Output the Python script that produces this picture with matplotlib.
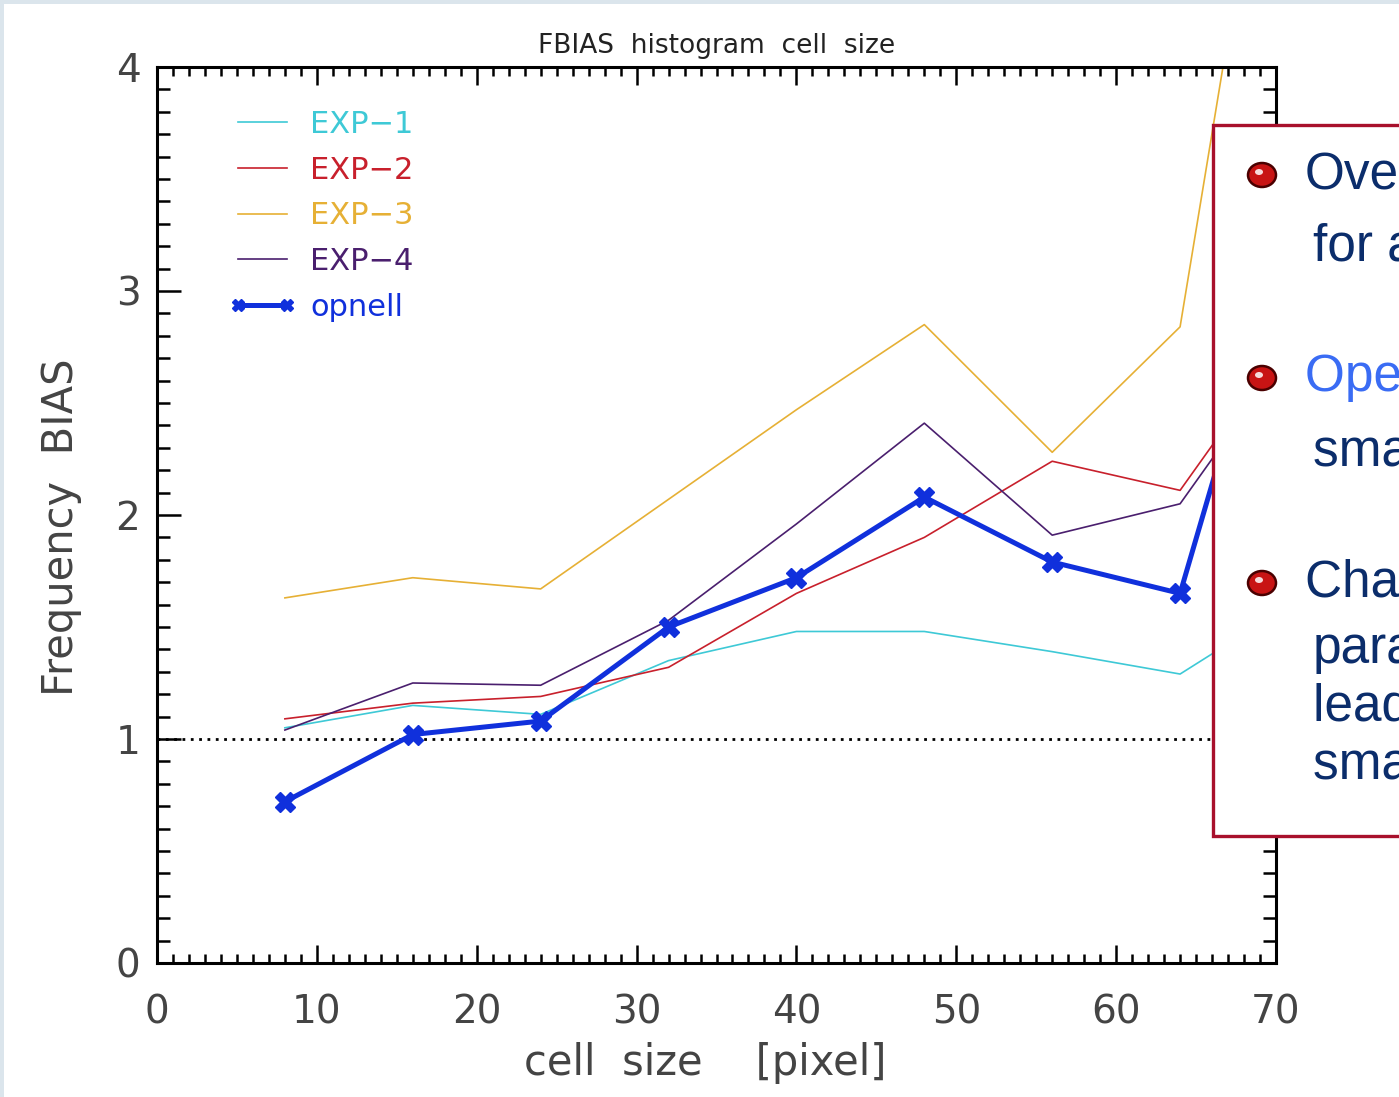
import numpy as np
import matplotlib.pyplot as plt
from matplotlib.patches import Rectangle, Ellipse
from matplotlib.ticker import MultipleLocator

# cell size [pixel]; the last point lies outside the drawn x-range
cell_size = [8, 16, 24, 32, 40, 48, 56, 64, 72]

exp1 = [1.05, 1.15, 1.11, 1.35, 1.48, 1.48, 1.39, 1.29, 1.65]
exp2 = [1.09, 1.16, 1.19, 1.32, 1.65, 1.90, 2.24, 2.11, 2.91]
exp3 = [1.63, 1.72, 1.67, 2.07, 2.47, 2.85, 2.28, 2.84, 6.30]
exp4 = [1.04, 1.25, 1.24, 1.53, 1.96, 2.41, 1.91, 2.05, 2.85]
opnell = [0.72, 1.02, 1.08, 1.50, 1.72, 2.08, 1.79, 1.65, 3.60]

labels = ["EXP\u22121", "EXP\u22122", "EXP\u22123", "EXP\u22124", "opnell"]
colors = ["#3ec9d6", "#c8202c", "#e6b035", "#4a1f6e", "#1030dc"]

bullets = [
    ("Overforecasting", "#0b2d6b", ["for all experiments"]),
    ("Operational run has", "#3a6cf4", ["smallest BIAS"]),
    ("Changing physical", "#0b2d6b", ["parameters", "leads to", "smaller BIAS"]),
]

W, H = 1399, 1097
fig = plt.figure(figsize=(W / 100, H / 100), dpi=100, facecolor="#dbe5ec")
fig.patches.append(Rectangle((4 / W, 0), 1, 1 - 4 / H, transform=fig.transFigure,
                             facecolor="white", edgecolor="none", zorder=-10))

ax = fig.add_axes([157 / W, (H - 963) / H, 1119 / W, (963 - 67) / H], zorder=2)
ax.set_facecolor("white")

series = [exp1, exp2, exp3, exp4]
for vals, lab, col in zip(series, labels[:4], colors[:4]):
    ax.plot(cell_size, vals, color=col, lw=1.2, label=lab)
ax.plot(cell_size, opnell, color=colors[4], lw=3.6, marker="X", ms=15,
        mec=colors[4], mfc=colors[4], label=labels[4])
ax.axhline(1.0, color="black", ls=(0, (1, 2)), lw=2.0, zorder=1)

ax.set_xlim(0, 70)
ax.set_ylim(0, 4)
ax.xaxis.set_major_locator(MultipleLocator(10))
ax.xaxis.set_minor_locator(MultipleLocator(1))
ax.yaxis.set_major_locator(MultipleLocator(1))
ax.yaxis.set_minor_locator(MultipleLocator(0.1))
ax.tick_params(which="both", direction="in", top=True, right=True, width=1.8, color="black")
ax.tick_params(axis="x", which="major", length=13, pad=22)
ax.tick_params(axis="x", which="minor", length=6.5)
ax.tick_params(axis="y", which="major", length=17, pad=12)
ax.tick_params(axis="y", which="minor", length=9.5)
ax.tick_params(labelsize=28, labelcolor="#444444")
for sp in ax.spines.values():
    sp.set_linewidth(2.2)

ax.set_title("FBIAS  histogram  cell  size", fontsize=19, color="#222222", pad=10)
ax.set_xlabel("cell  size    [pixel]", fontsize=30, color="#444444")
ax.xaxis.set_label_coords((705 - 157) / 1119, -(1042 - 963) / 896, transform=ax.transAxes)
ax.set_ylabel("Frequency  BIAS", fontsize=30, color="#444444")
ax.yaxis.set_label_coords(-(157 - 82) / 1119, (963 - 527) / 896, transform=ax.transAxes)

leg = ax.legend(loc="upper left", bbox_to_anchor=(0.040, 0.983), frameon=False,
                fontsize=22, handlelength=2.2, handletextpad=0.45, labelspacing=0.55,
                numpoints=2, labelcolor="linecolor")
for h in leg.legend_handles[4:]:
    h.set_markersize(8)

# slide text box overlapping the plot
ov = fig.add_axes([0, 0, 1, 1], zorder=5)
ov.set_xlim(0, W)
ov.set_ylim(H, 0)
ov.axis("off")
ov.add_patch(Rectangle((1213, 125), 300, 711, facecolor="white", edgecolor="#a8102c",
                       lw=2.4, clip_on=False))

line_y = [[175, 247], [378, 452], [583, 650, 707, 765]]
for (head, hcol, rest), ys in zip(bullets, line_y):
    ov.add_patch(Ellipse((1262, ys[0]), 28, 24, facecolor="#c81414", edgecolor="#4a0000", lw=1.8))
    ov.add_patch(Ellipse((1259, ys[0] - 3), 8, 6, facecolor="white", edgecolor="none", alpha=0.85))
    ov.text(1305, ys[0], head, color=hcol, fontsize=37, family="Liberation Sans",
            va="center", ha="left")
    for txt, y in zip(rest, ys[1:]):
        ov.text(1313, y, txt, color="#0b2d6b", fontsize=37, family="Liberation Sans",
                va="center", ha="left")

fig.savefig("out.png", dpi=100, facecolor=fig.get_facecolor())
